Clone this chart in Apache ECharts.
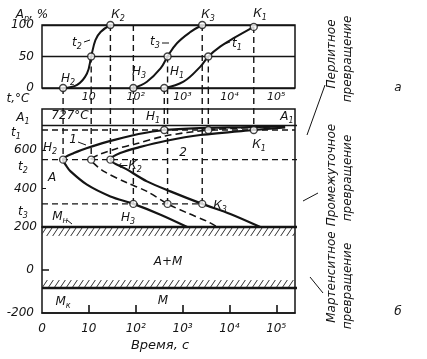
<!DOCTYPE html>
<html><head><meta charset="utf-8">
<script src="https://cdn.jsdelivr.net/npm/echarts@6/dist/echarts.min.js"></script>
<style>html,body{margin:0;padding:0;background:#fff}#c{width:427px;height:359px}</style>
</head><body><div id="c"></div><script>
// ---------- data ----------
const decadeLabels = ['0', '10', '10²', '10³', '10⁴', '10⁵'];
// kinetic curves (upper panel): log10(time, s) vs. transformed amount Ap, %
const t1LogTime = [2.61, 3.02, 3.38, 3.55, 3.81, 4.09, 4.52];
const t1Percent = [0, 10, 34, 50, 66, 79, 97];
const t2LogTime = [0.45, 0.75, 0.96, 1.05, 1.14, 1.25, 1.46];
const t2Percent = [0, 5, 23, 50, 76, 89, 100];
const t3LogTime = [1.95, 2.24, 2.53, 2.68, 2.88, 3.17, 3.42];
const t3Percent = [0, 10, 31, 50, 71, 89, 100];
// key points (start Н, 50 %, end К) for each isotherm
const keyNames = ['t1', 't2', 't3'];
const keyLogTime = { t1: [2.61, 3.55, 4.52], t2: [0.45, 1.05, 1.46], t3: [1.95, 2.68, 3.42] };
const keyPercent = { t1: [0, 50, 97], t2: [0, 50, 100], t3: [0, 50, 100] };
// temperatures, °C
const tempA1 = 727, tempT1 = 704, tempT2 = 550, tempT3 = 320, tempMs = 200, tempMf = -84;
const keyTemp = { t1: tempT1, t2: tempT2, t3: tempT3 };
// C-curves (middle panel): log10(time, s) and temperature
const startLogTime = [5.19, 4.23, 3.38, 2.61, 2.06, 1.57, 1.07, 0.68, 0.45, 0.52, 0.61, 0.96, 1.46, 1.95, 2.53, 3.10];
const startTemp    = [722, 718, 714, 704, 683, 654, 619, 584, 550, 517, 489, 420, 359, 320, 264, 200];
const halfLogTime  = [4.87, 4.23, 3.55, 2.63, 1.99, 1.57, 1.25, 1.05, 1.10, 1.32, 1.82, 2.24, 2.68, 3.10, 3.52, 3.74];
const halfTemp     = [720, 714, 704, 673, 631, 605, 579, 550, 532, 489, 429, 385, 320, 273, 230, 200];
const endLogTime   = [5.19, 4.52, 3.38, 2.63, 2.10, 1.67, 1.46, 1.82, 2.24, 2.74, 3.42, 4.02, 4.66];
const endTemp      = [717, 704, 678, 647, 616, 584, 550, 498, 437, 385, 320, 268, 200];
// hatched bands of the martensite region (°C)
const hatchBands = [[200, 158], [-47, -84]];
// decade ticks on the time axis of the lower panel
const timeTicks = [1, 2, 3, 4, 5];

// ---------- drawing ----------
const INK = '#141414';
const FONT = 'DejaVu Sans';
const XMAX = 5.4, XEXT = 6.0, TOP_EDGE_T = 922;
const zip = (a, b) => a.map((v, i) => [v, b[i]]);
const S = [];
function lineS(idx, data, style, extra) {
  S.push(Object.assign({ type: 'line', xAxisIndex: idx, yAxisIndex: idx, data, symbol: 'none', silent: true,
    lineStyle: Object.assign({ color: INK, width: 2 }, style) }, extra || {}));
}
const DASH = { type: [6, 4], width: 1.4 };
// upper panel curves
lineS(0, zip(t1LogTime, t1Percent), { width: 2 }, { smooth: 0.4 });
lineS(0, zip(t2LogTime, t2Percent), { width: 2 }, { smooth: 0.4 });
lineS(0, zip(t3LogTime, t3Percent), { width: 2 }, { smooth: 0.4 });
// drop lines
keyNames.forEach(n => {
  keyLogTime[n].forEach((x, k) => {
    const p = keyPercent[n][k];
    if (p > 0) lineS(0, [[x, p], [x, 0]], DASH);
    lineS(1, [[x, TOP_EDGE_T], [x, keyTemp[n]]], DASH, { clip: false });
  });
});
lineS(0, [[keyLogTime.t3[0], 100], [keyLogTime.t3[0], 0]], DASH);
// middle panel curves
lineS(1, zip(startLogTime, startTemp), { width: 2.2 }, { smooth: 0.3 });
lineS(1, zip(halfLogTime, halfTemp), { width: 1.6, type: [7, 4] }, { smooth: 0.3 });
lineS(1, zip(endLogTime, endTemp), { width: 2.2 }, { smooth: 0.3 });
// horizontals
lineS(1, [[0, tempA1], [XEXT, tempA1]], { width: 1.5 }, { clip: false });
lineS(1, [[0, tempT1], [XMAX, tempT1]], DASH);
lineS(1, [[0, tempT2], [XEXT, tempT2]], DASH, { clip: false });
lineS(1, [[0, tempT3], [keyLogTime.t3[2], tempT3]], DASH);
lineS(1, [[0, tempMs], [XEXT, tempMs]], { width: 2.6 }, { clip: false, z: 4 });
lineS(2, [[0, tempMf], [XEXT, tempMf]], { width: 2.6 }, { clip: false, z: 4 });
// hatch
function hatch() {
  const c = document.createElement('canvas'); c.width = 6; c.height = 9;
  const g = c.getContext('2d'); g.strokeStyle = '#333'; g.lineWidth = 1; g.beginPath();
  for (const o of [-6, 0, 6]) { g.moveTo(o, 9); g.lineTo(o + 6, 0); }
  g.stroke(); return c;
}
S.push({ type: 'line', xAxisIndex: 2, yAxisIndex: 2, data: [], silent: true,
  markArea: { silent: true, itemStyle: { color: { image: hatch(), repeat: 'repeat' } },
    data: hatchBands.map(b => [{ yAxis: b[0] }, { yAxis: b[1] }]) } });
// circles
const circ = { type: 'scatter', symbol: 'circle', symbolSize: 7, silent: true, z: 6,
  itemStyle: { color: '#fff', borderColor: INK, borderWidth: 1.4 } };
const topPts = [], midPts = [];
keyNames.forEach(n => keyLogTime[n].forEach((x, k) => { topPts.push([x, keyPercent[n][k]]); midPts.push([x, keyTemp[n]]); }));
S.push(Object.assign({ xAxisIndex: 0, yAxisIndex: 0, data: topPts }, circ));
S.push(Object.assign({ xAxisIndex: 1, yAxisIndex: 1, data: midPts }, circ));

// ---------- text ----------
const RICH = {
  i: { fontStyle: 'italic', fontSize: 12, fontFamily: FONT, fill: INK },
  s: { fontStyle: 'italic', fontSize: 8, fontFamily: FONT, fill: INK, padding: [7, 0, 0, 0] }
};
const G = [];
function txt(x, y, t, opt) {
  G.push(Object.assign({ type: 'text', x, y, silent: true, z: 10,
    style: Object.assign({ text: t, rich: RICH, font: 'italic 12px "DejaVu Sans"', fill: INK,
      textAlign: 'center', textVerticalAlign: 'middle', align: 'center', verticalAlign: 'middle' }, (opt && opt.style) || {}) },
    opt && opt.rotation ? { rotation: opt.rotation } : {}));
}
const sub = (a, b) => '{i|' + a + '}{s|' + b + '}';
function seg(x1, y1, x2, y2) { G.push({ type: 'line', silent: true, z: 10, shape: { x1, y1, x2, y2 }, style: { stroke: INK, lineWidth: 1 } }); }

txt(32, 15, '{i|A}{s|р}{i|, %}');
txt(118, 15, sub('К', '2')); txt(208, 15, sub('К', '3')); txt(260, 14, sub('К', '1'));
txt(77, 43, sub('t', '2')); seg(84, 42, 90, 40);
txt(155, 42, sub('t', '3')); seg(162, 43, 169, 43);
txt(237, 44, sub('t', '1')); seg(230, 42, 222, 45);
txt(68, 79, sub('Н', '2')); txt(139, 72, sub('Н', '3')); txt(177, 72, sub('Н', '1'));
txt(18, 99, '{i|t,°C}');
txt(23, 118, sub('A', '1')); txt(16, 133, sub('t', '1')); txt(23, 167, sub('t', '2')); txt(23, 212, sub('t', '3'));
txt(70, 116, '{i|727°C}');
txt(153, 117, sub('Н', '1'));
txt(287, 117, sub('A', '1'));
txt(50, 148, sub('Н', '2'));
txt(73, 140, '{i|1}'); seg(78, 142, 86, 145);
txt(259, 145, sub('К', '1'));
txt(183, 153, '{i|2}');
txt(130, 166, '{i|←}' + sub('К', '2'));
txt(52, 178, '{i|А}');
txt(128, 218, sub('Н', '3'));
txt(220, 206, sub('К', '3'));
txt(60, 217, sub('М', 'н')); seg(67, 220, 72, 224);
txt(168, 262, '{i|А+М}');
txt(63, 302, sub('М', 'к'));
txt(163, 301, '{i|М}');
txt(160, 346, 'Время, с', { style: { font: 'italic 13px "DejaVu Sans"' } });
txt(398, 88, 'а', { style: { font: 'italic 12px "DejaVu Sans"' } });
txt(398, 312, 'б', { style: { font: 'italic 12px "DejaVu Sans"' } });
const R = Math.PI / 2;
txt(332, 54, 'Перлитное', { rotation: R }); txt(348, 59, 'превращение', { rotation: R });
txt(332, 175, 'Промежуточное', { rotation: R }); txt(348, 178, 'превращение', { rotation: R });
txt(332, 277, 'Мартенситное', { rotation: R }); txt(348, 286, 'превращение', { rotation: R });
seg(325, 85, 307, 135); seg(318, 193, 303, 201); seg(323, 293, 310, 277);

// ---------- option ----------
const lab = { fontStyle: 'italic', fontSize: 12, color: INK, fontFamily: FONT };
const gridBox = { show: true, borderColor: INK, borderWidth: 1.5, backgroundColor: 'transparent' };
const noLine = { show: false, onZero: false };
const option = {
  animation: false, backgroundColor: '#fff', textStyle: { fontFamily: FONT },
  grid: [
    Object.assign({ left: 42, top: 25, width: 253, height: 63 }, gridBox),
    Object.assign({ left: 42, top: 109, width: 253, height: 118 }, gridBox),
    Object.assign({ left: 42, top: 227, width: 253, height: 86 }, gridBox)
  ],
  xAxis: [
    { gridIndex: 0, type: 'value', position: 'bottom', min: 0, max: XMAX, interval: 1, axisLine: noLine, splitLine: { show: false }, axisTick: { show: false },
      axisLabel: { margin: 4, fontSize: 11, fontStyle: 'italic', color: INK, fontFamily: FONT, formatter: v => (Number.isInteger(v) && v >= 1) ? decadeLabels[v] : '' } },
    { gridIndex: 1, type: 'value', position: 'bottom', min: 0, max: XMAX, interval: 1, axisLine: noLine, splitLine: { show: false }, axisTick: { show: false }, axisLabel: { show: false } },
    { gridIndex: 2, type: 'value', position: 'bottom', min: 0, max: XMAX, interval: 1,
      axisLine: { show: true, onZero: false, lineStyle: { color: INK, width: 1.5 } }, splitLine: { show: false },
      axisTick: { show: true, inside: true, length: 8, customValues: timeTicks, lineStyle: { color: INK, width: 1.6 } },
      axisLabel: Object.assign({ margin: 10, formatter: v => Number.isInteger(v) ? decadeLabels[v] : '' }, lab) }
  ],
  yAxis: [
    { gridIndex: 0, type: 'value', min: 0, max: 100, interval: 50, axisLine: noLine, axisTick: { show: false },
      splitLine: { show: true, lineStyle: { color: INK, width: 1.3 } }, axisLabel: Object.assign({ margin: 8 }, lab) },
    { gridIndex: 1, type: 'value', min: 200, max: 813, axisLine: noLine, splitLine: { show: false },
      axisTick: { show: true, inside: true, length: 4, customValues: [600, 400], lineStyle: { color: INK } },
      axisLabel: Object.assign({ margin: 5, customValues: [600, 400, 200] }, lab) },
    { gridIndex: 2, type: 'value', min: -200, max: 200, axisLine: noLine, splitLine: { show: false },
      axisTick: { show: true, inside: true, length: 7, customValues: [0], lineStyle: { color: INK, width: 1.5 } },
      axisLabel: Object.assign({ margin: 8, customValues: [0, -200] }, lab) }
  ],
  series: S,
  graphic: G
};
const chart = echarts.init(document.getElementById('c'));
chart.setOption(option);
</script></body></html>
